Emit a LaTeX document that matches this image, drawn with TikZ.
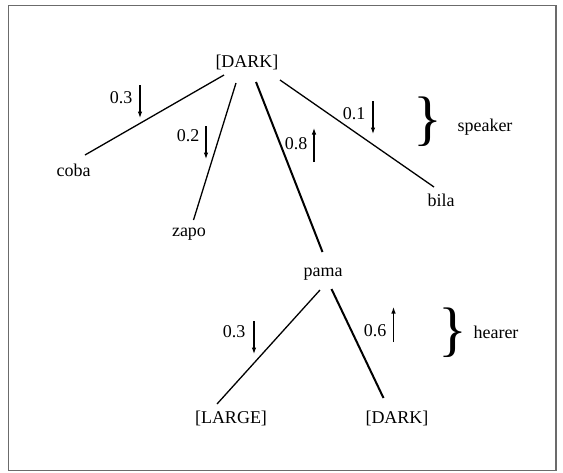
\documentclass[tikz,border=0pt]{standalone}
\usepackage{fontspec}
\setmainfont{Liberation Serif}
\usetikzlibrary{calc,arrows.meta}
\begin{document}
\begin{tikzpicture}[x=1pt,y=-1pt,
  lbl/.style={anchor=base,inner sep=0pt,font=\fontsize{18}{20}\selectfont},
  edge/.style={line width=1.3pt},
  edgebold/.style={line width=2pt},
  prob/.style={line width=1.2pt,-{Latex[length=6.5pt,width=4.6pt]}},
  bracetxt/.style={anchor=center,inner sep=0pt,font=\fontsize{60}{60}\selectfont}]
\useasboundingbox (0,0) rectangle (563,472);
\draw[color=black!58,line width=1.5pt] (8.5,5.7) rectangle (556,470.5);
% tree nodes
\node[lbl] (top) at (247,67) {[DARK]};
\node[lbl] (coba) at (73.5,176) {coba};
\node[lbl] (zapo) at (189,236) {zapo};
\node[lbl] (pama) at (323,276) {pama};
\node[lbl] (bila) at (441,206) {bila};
\node[lbl] (large) at (231,423) {[LARGE]};
\node[lbl] (dark2) at (397,423) {[DARK]};
% connectors
\draw[edge] ($(top.base)+(-23,8)$) -- ($(coba.base)+(11.5,-21)$);
\draw[edge] ($(top.base)+(-11,16)$) -- ($(zapo.base)+(4.5,-16)$);
\draw[edgebold] ($(top.base)+(9,15)$) -- ($(pama.base)+(-0.5,-24)$);
\draw[edge] ($(top.base)+(33,13)$) -- ($(bila.base)+(-7,-19)$);
\draw[edge] ($(pama.base)+(-3,14)$) -- ($(large.base)+(-14,-19)$);
\draw[edgebold] ($(pama.base)+(8.5,13)$) -- ($(dark2.base)+(-13.5,-25)$);
% probability labels
\node[lbl] (p1) at (121,103) {0.3};
\node[lbl] (p2) at (188,141) {0.2};
\node[lbl] (p3) at (296,149) {0.8};
\node[lbl] (p4) at (354,119) {0.1};
\node[lbl] (p5) at (234,337) {0.3};
\node[lbl] (p6) at (375,336) {0.6};
% arrows
\coordinate (a1s) at (140,85);  \coordinate (a1e) at (140,118);
\coordinate (a2s) at (206,126); \coordinate (a2e) at (206,159);
\coordinate (a3s) at (314,162); \coordinate (a3e) at (314,128);
\coordinate (a4s) at (373,101); \coordinate (a4e) at (373,134);
\coordinate (a5s) at (254,321); \coordinate (a5e) at (254,354);
\coordinate (a6s) at (393.5,342); \coordinate (a6e) at (393.5,307);
\draw[prob] (a1s) -- (a1e);
\draw[prob] (a2s) -- (a2e);
\draw[prob] (a3s) -- (a3e);
\draw[prob] (a4s) -- (a4e);
\draw[prob] (a5s) -- (a5e);
\draw[prob] (a6s) -- (a6e);
% braces and roles
\node[bracetxt] (b1) at (428,122) {\}};
\node[bracetxt] (b2) at (453,333) {\}};
\node[lbl] (spk) at (485,131) {speaker};
\node[lbl] (hrr) at (496,338) {hearer};
\end{tikzpicture}
\end{document}
